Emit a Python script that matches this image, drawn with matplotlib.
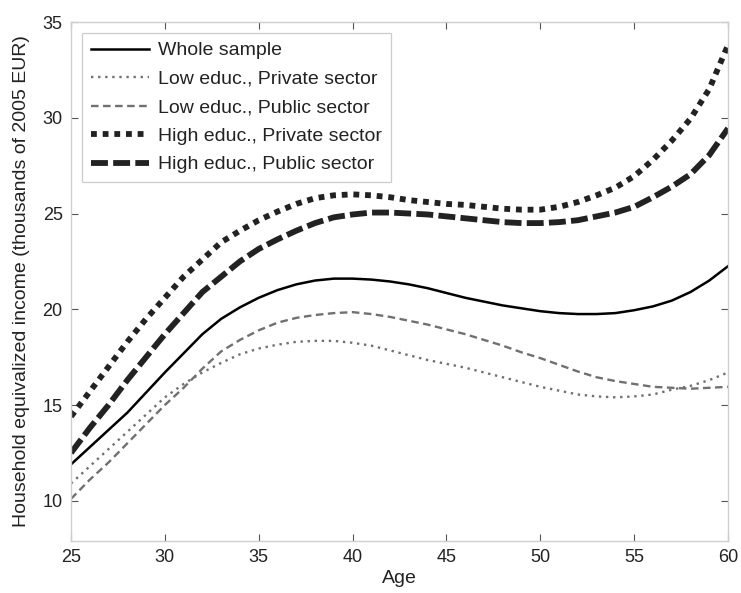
import matplotlib
matplotlib.use("Agg")
import matplotlib.pyplot as plt

plt.rcParams['font.family'] = ['Liberation Sans', 'DejaVu Sans']

ages = list(range(25, 61))

whole_sample = [11.9, 12.8, 13.7, 14.6, 15.65, 16.7, 17.7, 18.7, 19.5, 20.1,
                20.6, 21.0, 21.3, 21.5, 21.6, 21.6, 21.55, 21.45, 21.3, 21.1,
                20.85, 20.6, 20.4, 20.2, 20.05, 19.9, 19.8, 19.75, 19.75, 19.8,
                19.95, 20.15, 20.45, 20.9, 21.5, 22.25]

low_private = [10.9, 11.8, 12.7, 13.6, 14.5, 15.4, 16.1, 16.7, 17.2, 17.65,
               17.95, 18.15, 18.3, 18.35, 18.35, 18.25, 18.1, 17.85, 17.6, 17.35,
               17.15, 16.95, 16.7, 16.45, 16.2, 15.95, 15.75, 15.55, 15.45, 15.4,
               15.45, 15.55, 15.8, 16.0, 16.3, 16.7]

low_public = [10.1, 11.1, 12.0, 13.0, 14.0, 15.0, 15.9, 16.9, 17.8, 18.4,
              18.9, 19.3, 19.55, 19.7, 19.8, 19.85, 19.75, 19.6, 19.4, 19.2,
              18.95, 18.7, 18.4, 18.1, 17.75, 17.45, 17.1, 16.75, 16.45, 16.25,
              16.1, 15.95, 15.9, 15.85, 15.9, 15.95]

high_private = [14.4, 15.7, 17.0, 18.3, 19.5, 20.6, 21.7, 22.6, 23.5, 24.1,
                24.65, 25.1, 25.5, 25.8, 25.95, 26.0, 25.95, 25.85, 25.7, 25.6,
                25.5, 25.45, 25.35, 25.25, 25.2, 25.2, 25.35, 25.6, 25.95, 26.35,
                26.95, 27.8, 28.8, 29.95, 31.5, 33.8]

high_public = [12.5, 13.8, 15.0, 16.3, 17.5, 18.7, 19.8, 20.9, 21.7, 22.5,
               23.15, 23.65, 24.1, 24.5, 24.8, 24.95, 25.05, 25.05, 25.0, 24.95,
               24.85, 24.75, 24.65, 24.55, 24.5, 24.5, 24.55, 24.65, 24.85, 25.05,
               25.35, 25.85, 26.4, 27.05, 28.05, 29.45]

labels = ["Whole sample", "Low educ., Private sector", "Low educ., Public sector",
          "High educ., Private sector", "High educ., Public sector"]

fig = plt.figure(figsize=(7.41, 5.93), dpi=100)
ax = fig.add_axes([0.0958, 0.0877, 0.8867, 0.8752])

ax.plot(ages, whole_sample, color='black', lw=1.8, label=labels[0])
ax.plot(ages, low_private, color='#707070', lw=1.7, dashes=(1, 2.0), label=labels[1])
ax.plot(ages, low_public, color='#707070', lw=1.7, dashes=(3.2, 1.9), label=labels[2])
ax.plot(ages, high_private, color='#222222', lw=4.2, dashes=(1.0, 1.0), label=labels[3])
ax.plot(ages, high_public, color='#222222', lw=4.2, dashes=(2.9, 0.9), label=labels[4])

ax.set_xlim(25, 60)
ax.set_ylim(7.9, 35)
ax.set_xticks([25, 30, 35, 40, 45, 50, 55, 60])
ax.set_yticks([10, 15, 20, 25, 30, 35])

for s in ax.spines.values():
    s.set_color('#cfcfcf')
    s.set_linewidth(1.0)

ax.tick_params(direction='in', length=5, width=0.8, color='#555555',
               top=True, right=True, labelsize=13, pad=6, labelcolor='#222222')

ax.set_xlabel('Age', fontsize=14, color='#222222', labelpad=3)
ax.set_ylabel('Household equivalized income (thousands of 2005 EUR)', fontsize=14,
              color='#222222', labelpad=9)

leg = ax.legend(loc='upper left', bbox_to_anchor=(0.0167, 0.9788), borderaxespad=0,
                fontsize=14, handlelength=3.0, handletextpad=0.46, labelspacing=0.56,
                borderpad=0.45, fancybox=False, frameon=True)
leg.get_frame().set_edgecolor('#c0c0c0')
leg.get_frame().set_linewidth(0.9)
for t in leg.get_texts():
    t.set_color('#222222')

fig.savefig('out.png', dpi=100)
